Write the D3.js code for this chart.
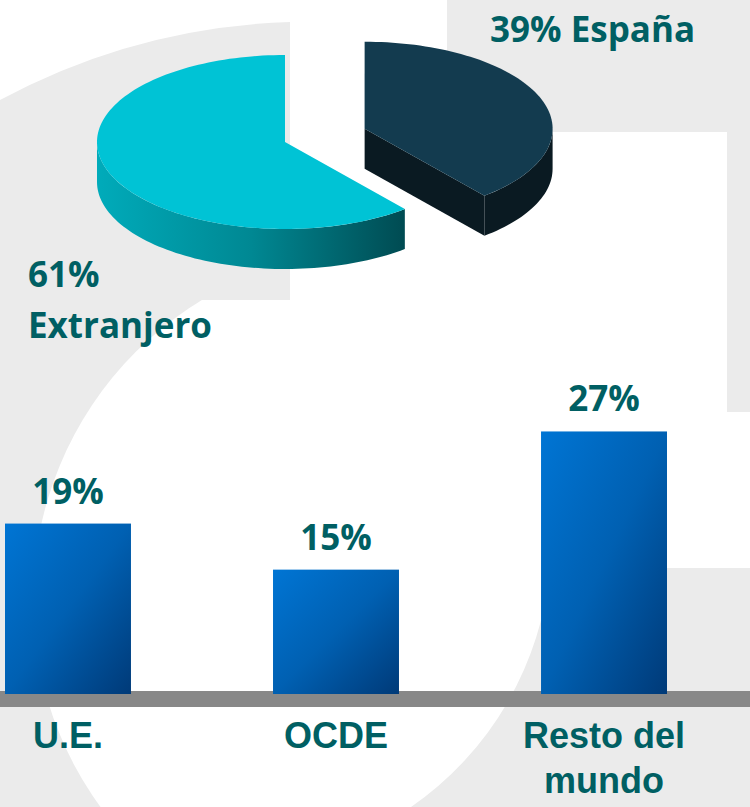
<!DOCTYPE html>
<html>
<head>
<meta charset="utf-8">
<script src="https://cdn.jsdelivr.net/npm/d3@7"></script>
<style>
  html, body { margin: 0; padding: 0; background: #fff; }
  svg { display: block; }
</style>
</head>
<body>
<script>
const width = 750;
const height = 807;

// datos de la tarta
const pieLabels = ['España', 'Extranjero'];
const pieValues = [39, 61];
const pieExploded = [true, false];

// datos de las barras
const categories = ['U.E.', 'OCDE', 'Resto del\nmundo'];
const barValues = [19, 15, 27];

const teal = '#005f63';
const gray = '#ebebeb';

const svg = d3.select('body').append('svg')
  .attr('width', width)
  .attr('height', height);

const defs = svg.append('defs');

const barGrad = defs.append('linearGradient')
  .attr('id', 'barGrad')
  .attr('x1', 0).attr('y1', 0).attr('x2', 1).attr('y2', 1);
barGrad.append('stop').attr('offset', '0%').attr('stop-color', '#0075d4');
barGrad.append('stop').attr('offset', '50%').attr('stop-color', '#0060b2');
barGrad.append('stop').attr('offset', '100%').attr('stop-color', '#003a78');

const cyanSide = defs.append('linearGradient')
  .attr('id', 'cyanSide')
  .attr('gradientUnits', 'userSpaceOnUse')
  .attr('x1', 97).attr('y1', 0).attr('x2', 405).attr('y2', 0);
cyanSide.append('stop').attr('offset', '0%').attr('stop-color', '#00abba');
cyanSide.append('stop').attr('offset', '50%').attr('stop-color', '#008893');
cyanSide.append('stop').attr('offset', '100%').attr('stop-color', '#004b52');

// fondo (logo gris y blanco)
const bg = svg.append('g');
bg.append('rect').attr('width', width).attr('height', height).attr('fill', gray);
bg.append('path').attr('d', 'M0,0H290V22A658,658 0 0 0 0,100Z').attr('fill', '#fff');
bg.append('rect').attr('x', 290).attr('y', 0).attr('width', 157).attr('height', 412).attr('fill', '#fff');
bg.append('rect').attr('x', 447).attr('y', 132).attr('width', 280).attr('height', 280).attr('fill', '#fff');
bg.append('rect').attr('x', 290).attr('y', 412).attr('width', 460).attr('height', 156).attr('fill', '#fff');
bg.append('circle').attr('cx', 384).attr('cy', 600).attr('r', 351).attr('fill', '#fff');
bg.append('rect').attr('x', 0).attr('y', 100).attr('width', 290).attr('height', 200).attr('fill', gray);
bg.append('path').attr('d', 'M550,568H750V807H411A325,325 0 0 0 550,568Z').attr('fill', gray);

// ---- tarta 3D ----
const pie = { cx: 285, cy: 142, rx: 188, ry: 87, depth: 40, explode: 0.45 };
const arcs = d3.pie().sort(null).value(d => d)(pieValues);
const topColors = ['#133b4f', '#00c3d5'];
const sideColors = ['#0a1a22', 'url(#cyanSide)'];

function pt(a, ox, oy, dz) {
  return [ox + pie.rx * Math.sin(a), oy - pie.ry * Math.cos(a) + (dz || 0)];
}
function arcPts(a0, a1, ox, oy, dz) {
  const n = Math.max(2, Math.ceil(Math.abs(a1 - a0) / 0.03));
  return d3.range(n + 1).map(i => pt(a0 + (a1 - a0) * i / n, ox, oy, dz));
}
const line = d3.line();

const pieG = svg.append('g');
const sides = pieG.append('g');
const tops = pieG.append('g');

arcs.forEach((d, i) => {
  const m = (d.startAngle + d.endAngle) / 2;
  const k = pieExploded[i] ? pie.explode : 0;
  const ox = pie.cx + k * pie.rx * Math.sin(m);
  const oy = pie.cy - k * pie.ry * Math.cos(m);

  // caras radiales visibles
  [[d.startAngle, d.startAngle - Math.PI / 2], [d.endAngle, d.endAngle + Math.PI / 2]].forEach(([a, nrm]) => {
    if (-Math.cos(nrm) > 0.01) {
      const p = pt(a, ox, oy);
      sides.append('path')
        .attr('d', line([[ox, oy], p, [p[0], p[1] + pie.depth], [ox, oy + pie.depth]]) + 'Z')
        .attr('fill', sideColors[i]);
    }
  });

  // pared exterior visible (mitad delantera)
  const a0 = Math.max(d.startAngle, Math.PI / 2);
  const a1 = Math.min(d.endAngle, 3 * Math.PI / 2);
  if (a1 > a0) {
    const upper = arcPts(a0, a1, ox, oy, 0);
    const lower = arcPts(a1, a0, ox, oy, pie.depth);
    sides.append('path')
      .attr('d', line(upper.concat(lower)) + 'Z')
      .attr('fill', sideColors[i]);
  }

  tops.append('path')
    .attr('d', line([[ox, oy]].concat(arcPts(d.startAngle, d.endAngle, ox, oy, 0))) + 'Z')
    .attr('fill', topColors[i]);
});

const labelFont = { family: '"Open Sans", sans-serif', size: 35 };

svg.append('text')
  .attr('x', 490).attr('y', 42)
  .attr('font-family', labelFont.family).attr('font-weight', 700)
  .attr('font-size', labelFont.size).attr('fill', teal)
  .text(`${pieValues[0]}% ${pieLabels[0]}`);

const ext = svg.append('text')
  .attr('font-family', labelFont.family).attr('font-weight', 700)
  .attr('font-size', labelFont.size).attr('fill', teal);
ext.append('tspan').attr('x', 28).attr('y', 287).text(`${pieValues[1]}%`);
ext.append('tspan').attr('x', 28).attr('y', 338).text(pieLabels[1]);

// ---- barras ----
const x = d3.scaleBand()
  .domain(categories)
  .range([5, 667])
  .paddingInner(0.53)
  .paddingOuter(0);

const y = d3.scaleLinear()
  .domain([4.2, 27.3])
  .range([694, 428]);

// linea base gris
svg.append('rect')
  .attr('x', 0).attr('y', 691)
  .attr('width', width).attr('height', 16)
  .attr('fill', '#888888');

svg.append('g').selectAll('rect')
  .data(barValues)
  .enter()
  .append('rect')
  .attr('x', (d, i) => x(categories[i]))
  .attr('y', d => y(d))
  .attr('width', x.bandwidth())
  .attr('height', d => y.range()[0] - y(d))
  .attr('fill', 'url(#barGrad)');

svg.append('g').selectAll('text')
  .data(barValues)
  .enter()
  .append('text')
  .attr('x', (d, i) => x(categories[i]) + x.bandwidth() / 2)
  .attr('y', d => y(d) - 20)
  .attr('text-anchor', 'middle')
  .attr('font-family', labelFont.family).attr('font-weight', 700)
  .attr('font-size', labelFont.size).attr('fill', teal)
  .text(d => d + '%');

const cat = svg.append('g').selectAll('text')
  .data(categories)
  .enter()
  .append('text')
  .attr('text-anchor', 'middle')
  .attr('font-family', '"Liberation Sans", Arial, sans-serif')
  .attr('font-weight', 700)
  .attr('font-size', 36)
  .attr('fill', teal);

cat.each(function (d) {
  const cx = x(d) + x.bandwidth() / 2;
  d.split('\n').forEach((ln, j) => {
    d3.select(this).append('tspan')
      .attr('x', cx)
      .attr('y', 748 + j * 45)
      .text(ln);
  });
});
</script>
</body>
</html>
